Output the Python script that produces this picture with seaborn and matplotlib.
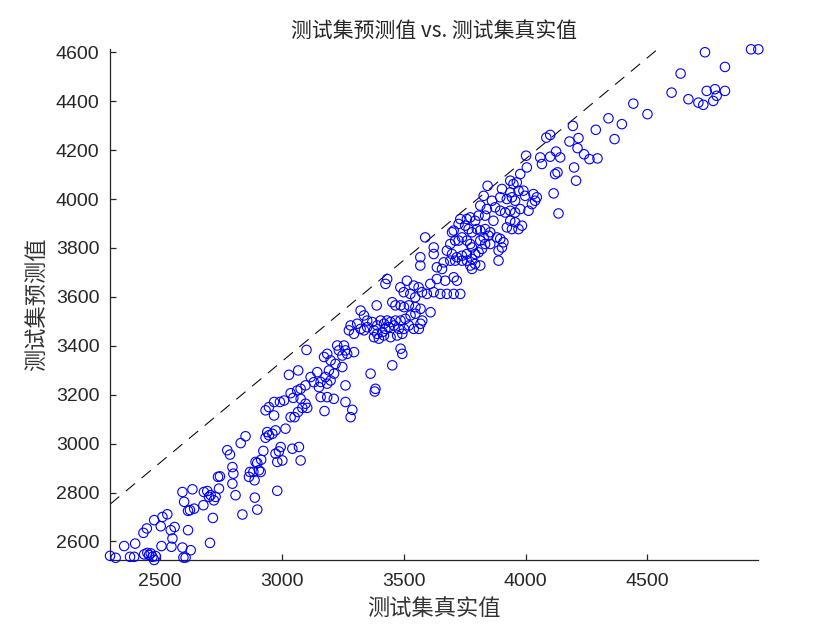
import matplotlib
matplotlib.use("Agg")
import matplotlib.pyplot as plt
import numpy as np
import pandas as pd
import seaborn as sns

# ---- data (true value, predicted value) ----
true_values = [
    # lower-left part
    2295, 2318, 2353, 2377, 2394, 2398, 2435, 2448, 2455, 2462,
    2469, 2476, 2482, 2506, 2547, 2551, 2592, 2596, 2605, 2626,
    2705, 2615, 2544, 2560, 2503, 2476, 2446, 2432, 2510, 2530,
    2592, 2599, 2615, 2633, 2623, 2640, 2678, 2680, 2694, 2701,
    2708, 2721, 2728, 2717, 2742, 2738, 2746, 2776, 2787, 2797,
    2801, 2797, 2810, 2831, 2851, 2838, 2865, 2869, 2883, 2888,
    2892, 2899, 2906, 2889, 2899, 2913, 2915, 2924, 2933, 2940,
    2947, 2981,
    # 3000 - 3300 part
    3101, 3067, 3029, 3145, 3118, 3131, 3152, 3159, 3186, 3213,
    3175, 3261, 3289, 3282, 3381, 3097, 3077, 3063, 3036, 3047,
    3077, 3097, 3104, 3084, 3066, 3052, 3036, 3009, 2992, 2968,
    2947, 2933, 2968, 3015, 2974, 2961, 2995, 2988, 2974, 2981,
    3002, 3043, 3070, 3077,
    # 3150 - 3600 part
    3432, 3425, 3389, 3453, 3466, 3487, 3501, 3521, 3548, 3569,
    3548, 3528, 3507, 3487, 3466, 3446, 3432, 3419, 3405, 3391,
    3371, 3350, 3337, 3323, 3309, 3282, 3275, 3296, 3323, 3337,
    3350, 3378, 3391, 3412, 3425, 3439, 3460, 3480, 3501, 3521,
    3541, 3562, 3569, 3576, 3610, 3378, 3398, 3419, 3446, 3473,
    3494, 3487, 3494, 3453, 3364, 3384, 3261, 3227, 3234, 3255,
    3261, 3248, 3268, 3296, 3186, 3173, 3200, 3220, 3248, 3193,
    3214, 3179, 3200, 3159, 3186,
    # 3500 - 4070 part
    4002, 4060, 4067, 4005, 3978, 3937, 3950, 3964, 3844, 3903,
    3937, 3971, 3991, 3998, 4032, 4046, 4039, 4026, 3957, 3944,
    3923, 3896, 3862, 3828, 3814, 3841, 3875, 3896, 3916, 3937,
    3957, 3978, 4012, 3868, 3834, 3807, 3793, 3773, 3759, 3732,
    3725, 3705, 3698, 3752, 3766, 3780, 3800, 3814, 3834, 3855,
    3828, 3814, 3848, 3882, 3896, 3909, 3903, 3889, 3855, 3834,
    3821, 3807, 3793, 3780, 3773, 3759, 3739, 3725, 3711, 3691,
    3677, 3698, 3718, 3739, 3759, 3780, 3793, 3773, 3814, 3780,
    3759, 3739, 3711, 3691, 3664, 3657, 3636, 3623, 3623, 3588,
    3568, 3568, 3889, 3923, 3944, 3971, 3985, 3957, 3937, 3513,
    3541, 3561, 3575, 3595, 3623, 3650, 3677, 3705, 3732, 3609,
    3636, 3670, 3705, 3718, 3486, 3500, 3527, 3547,
    # upper-right part
    4736, 4925, 4955, 4818, 4636, 4599, 4668, 4709, 4729, 4743,
    4777, 4818, 4784, 4770, 4442, 4500, 4340, 4395, 4288, 4365,
    4194, 4101, 4085, 4217, 4180, 4213, 4125, 4142, 4101, 4240,
    4262, 4295, 4199, 4207, 4131, 4121, 4115, 4135,
]

pred_values = [
    # lower-left part
    2541, 2533, 2581, 2537, 2537, 2591, 2547, 2553, 2544, 2551,
    2537, 2524, 2540, 2581, 2578, 2612, 2575, 2534, 2534, 2564,
    2594, 2646, 2646, 2659, 2662, 2687, 2653, 2635, 2700, 2711,
    2802, 2762, 2725, 2813, 2728, 2734, 2748, 2802, 2806, 2782,
    2789, 2768, 2782, 2696, 2816, 2864, 2866, 2973, 2955, 2904,
    2877, 2836, 2789, 3002, 3030, 2710, 2864, 2884, 2884, 2850,
    2925, 2921, 2891, 2779, 2730, 2884, 2934, 2970, 3024, 3047,
    3034, 2807,
    # 3000 - 3300 part
    3383, 3299, 3281, 3292, 3272, 3251, 3231, 3190, 3190, 3183,
    3133, 3170, 3138, 3108, 3213, 3238, 3224, 3217, 3206, 3187,
    3183, 3163, 3146, 3146, 3129, 3108, 3108, 3176, 3170, 3170,
    3149, 3136, 3115, 3061, 3054, 3040, 2986, 2968, 2959, 2925,
    2931, 2979, 2986, 2931,
    # 3150 - 3600 part
    3673, 3653, 3565, 3578, 3565, 3565, 3558, 3565, 3558, 3551,
    3531, 3524, 3510, 3503, 3503, 3497, 3503, 3490, 3503, 3483,
    3497, 3503, 3524, 3544, 3490, 3483, 3463, 3449, 3469, 3463,
    3476, 3463, 3449, 3456, 3469, 3476, 3483, 3469, 3469, 3483,
    3469, 3469, 3490, 3503, 3537, 3435, 3429, 3442, 3435, 3442,
    3449, 3388, 3367, 3320, 3286, 3224, 3238, 3401, 3381, 3401,
    3381, 3360, 3367, 3374, 3367, 3354, 3340, 3326, 3313, 3299,
    3286, 3272, 3258, 3252, 3245,
    # 3500 - 4070 part
    4177, 4170, 4143, 4129, 4102, 4075, 4061, 4068, 4054, 4041,
    4027, 4034, 4034, 4013, 4020, 4007, 3993, 3979, 3993, 4007,
    4000, 4007, 3993, 4013, 3973, 3959, 3966, 3952, 3945, 3952,
    3945, 3959, 3952, 3911, 3932, 3932, 3911, 3925, 3918, 3918,
    3898, 3871, 3864, 3891, 3877, 3864, 3877, 3871, 3877, 3864,
    3843, 3830, 3850, 3843, 3837, 3823, 3802, 3789, 3816, 3816,
    3796, 3782, 3775, 3802, 3816, 3830, 3843, 3830, 3830, 3816,
    3789, 3775, 3762, 3768, 3775, 3755, 3734, 3728, 3728, 3714,
    3748, 3748, 3748, 3748, 3741, 3714, 3721, 3775, 3802, 3843,
    3762, 3728, 3748, 3884, 3877, 3877, 3891, 3905, 3911, 3666,
    3646, 3639, 3619, 3612, 3619, 3612, 3612, 3612, 3612, 3653,
    3673, 3666, 3680, 3666, 3639, 3619, 3612, 3598,
    # upper-right part
    4600, 4612, 4612, 4540, 4513, 4435, 4408, 4394, 4385, 4442,
    4449, 4442, 4422, 4401, 4390, 4347, 4330, 4306, 4283, 4245,
    4299, 4262, 4251, 4249, 4235, 4208, 4194, 4170, 4173, 4183,
    4163, 4166, 4129, 4075, 4109, 4102, 4023, 3941,
]

# dashed reference line (visible end points)
ref_x = [2295, 4545]
ref_y = [2752, 4615]

x_ticks = [2500, 3000, 3500, 4000, 4500]
y_ticks = [2600, 2800, 3000, 3200, 3400, 3600, 3800, 4000, 4200, 4400, 4600]

title_text = "测试集预测值 vs. 测试集真实值"
xlabel_text = "测试集真实值"
ylabel_text = "测试集预测值"

# ---- drawing ----
sns.set_theme(style="white")
plt.rcParams["font.family"] = ["Liberation Sans", "Noto Sans CJK SC", "DejaVu Sans"]

fig = plt.figure(figsize=(8.4, 6.3), dpi=100)
ax = fig.add_axes([0.131, 0.1111, 0.7718, 0.8106])

df = pd.DataFrame({"true": true_values, "pred": pred_values})

sns.scatterplot(data=df, x="true", y="pred", ax=ax, marker="o", s=46,
                facecolor="none", edgecolor="#0000ff", linewidth=0.8,
                legend=False, clip_on=False, zorder=3)

ax.plot(ref_x, ref_y, linestyle=(0, (11.5, 8.2)), color="black", linewidth=0.75,
        clip_on=False, zorder=2)

ax.set_xlim(min(true_values), max(true_values))
ax.set_ylim(min(pred_values), max(pred_values))
ax.set_xticks(x_ticks)
ax.set_yticks(y_ticks)

sns.despine(ax=ax)
for side in ("left", "bottom"):
    ax.spines[side].set_color("#262626")
    ax.spines[side].set_linewidth(0.9)

ax.tick_params(axis="both", direction="in", length=4, width=0.9,
               colors="#262626", labelsize=14, left=True, bottom=True)
ax.tick_params(axis="x", pad=9.5)
ax.tick_params(axis="y", pad=7.5)

cjk = ["Noto Sans CJK SC", "DejaVu Sans"]
ax.set_title(title_text, family=cjk, fontsize=15, color="#262626",
             y=1.036, va="center", pad=0)
ax.set_xlabel(xlabel_text, family=cjk, fontsize=16, color="#333333", va="center")
ax.set_ylabel(ylabel_text, family=cjk, fontsize=16, color="#333333", va="center")
ax.xaxis.set_label_coords(0.5, -0.094)
ax.yaxis.set_label_coords(-0.1126, 0.5)

fig.savefig("out.png", dpi=100)
